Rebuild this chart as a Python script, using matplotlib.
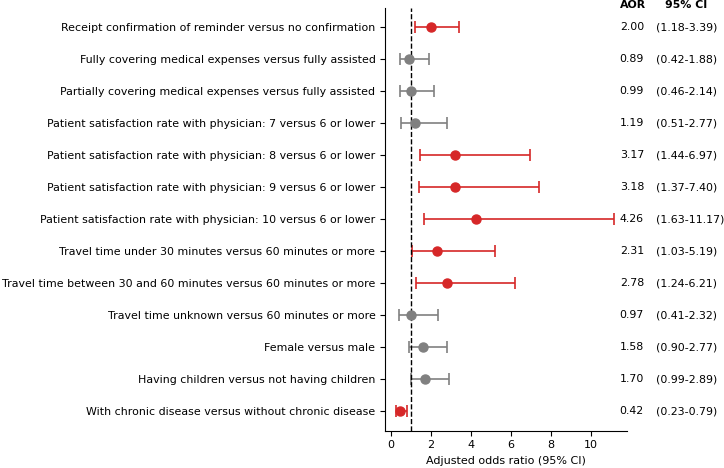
import matplotlib
matplotlib.use("Agg")
import matplotlib.pyplot as plt

labels = [
    "Receipt confirmation of reminder versus no confirmation",
    "Fully covering medical expenses versus fully assisted",
    "Partially covering medical expenses versus fully assisted",
    "Patient satisfaction rate with physician: 7 versus 6 or lower",
    "Patient satisfaction rate with physician: 8 versus 6 or lower",
    "Patient satisfaction rate with physician: 9 versus 6 or lower",
    "Patient satisfaction rate with physician: 10 versus 6 or lower",
    "Travel time under 30 minutes versus 60 minutes or more",
    "Travel time between 30 and 60 minutes versus 60 minutes or more",
    "Travel time unknown versus 60 minutes or more",
    "Female versus male",
    "Having children versus not having children",
    "With chronic disease versus without chronic disease",
]
aor = [2.00, 0.89, 0.99, 1.19, 3.17, 3.18, 4.26, 2.31, 2.78, 0.97, 1.58, 1.70, 0.42]
lower = [1.18, 0.42, 0.46, 0.51, 1.44, 1.37, 1.63, 1.03, 1.24, 0.41, 0.90, 0.99, 0.23]
upper = [3.39, 1.88, 2.14, 2.77, 6.97, 7.40, 11.17, 5.19, 6.21, 2.32, 2.77, 2.89, 0.79]

fs = 7.9
fig = plt.figure(figsize=(7.24, 4.68), dpi=100)
ax = fig.add_axes([0.532, 0.080, 0.334, 0.903])

for i, (a, lo, hi) in enumerate(zip(aor, lower, upper)):
    # red when the CI does not cross 1
    sig = lo > 1 or hi < 1
    c = "#d62728" if sig else "#808080"
    ax.errorbar(a, i, xerr=[[a - lo], [hi - a]], fmt="o", color=c, ecolor=c,
                markersize=6.5, capsize=4, elinewidth=1.2, capthick=1.2)
    ax.text(0.97, i, f"{a:.2f}", transform=ax.get_yaxis_transform(),
            ha="left", va="center", fontsize=fs)
    ax.text(1.12, i, f"({lo:.2f}-{hi:.2f})", transform=ax.get_yaxis_transform(),
            ha="left", va="center", fontsize=fs)

ax.text(0.97, -0.68, "AOR", transform=ax.get_yaxis_transform(), ha="left",
        va="center", fontsize=fs, fontweight="bold")
ax.text(1.157, -0.68, "95% CI", transform=ax.get_yaxis_transform(), ha="left",
        va="center", fontsize=fs, fontweight="bold")

ax.axvline(1, color="black", linestyle="--", linewidth=1)
ax.set_yticks(range(len(labels)))
ax.set_yticklabels(labels, fontsize=fs)
ax.set_ylim(12.6, -0.6)
ax.set_xlim(-0.3, 11.8)
ax.set_xticks([0, 2, 4, 6, 8, 10])
ax.tick_params(axis="x", labelsize=8)
ax.set_xlabel("Adjusted odds ratio (95% CI)", fontsize=8)
for s in ["top", "right"]:
    ax.spines[s].set_visible(False)

fig.savefig("out.png", dpi=100)
